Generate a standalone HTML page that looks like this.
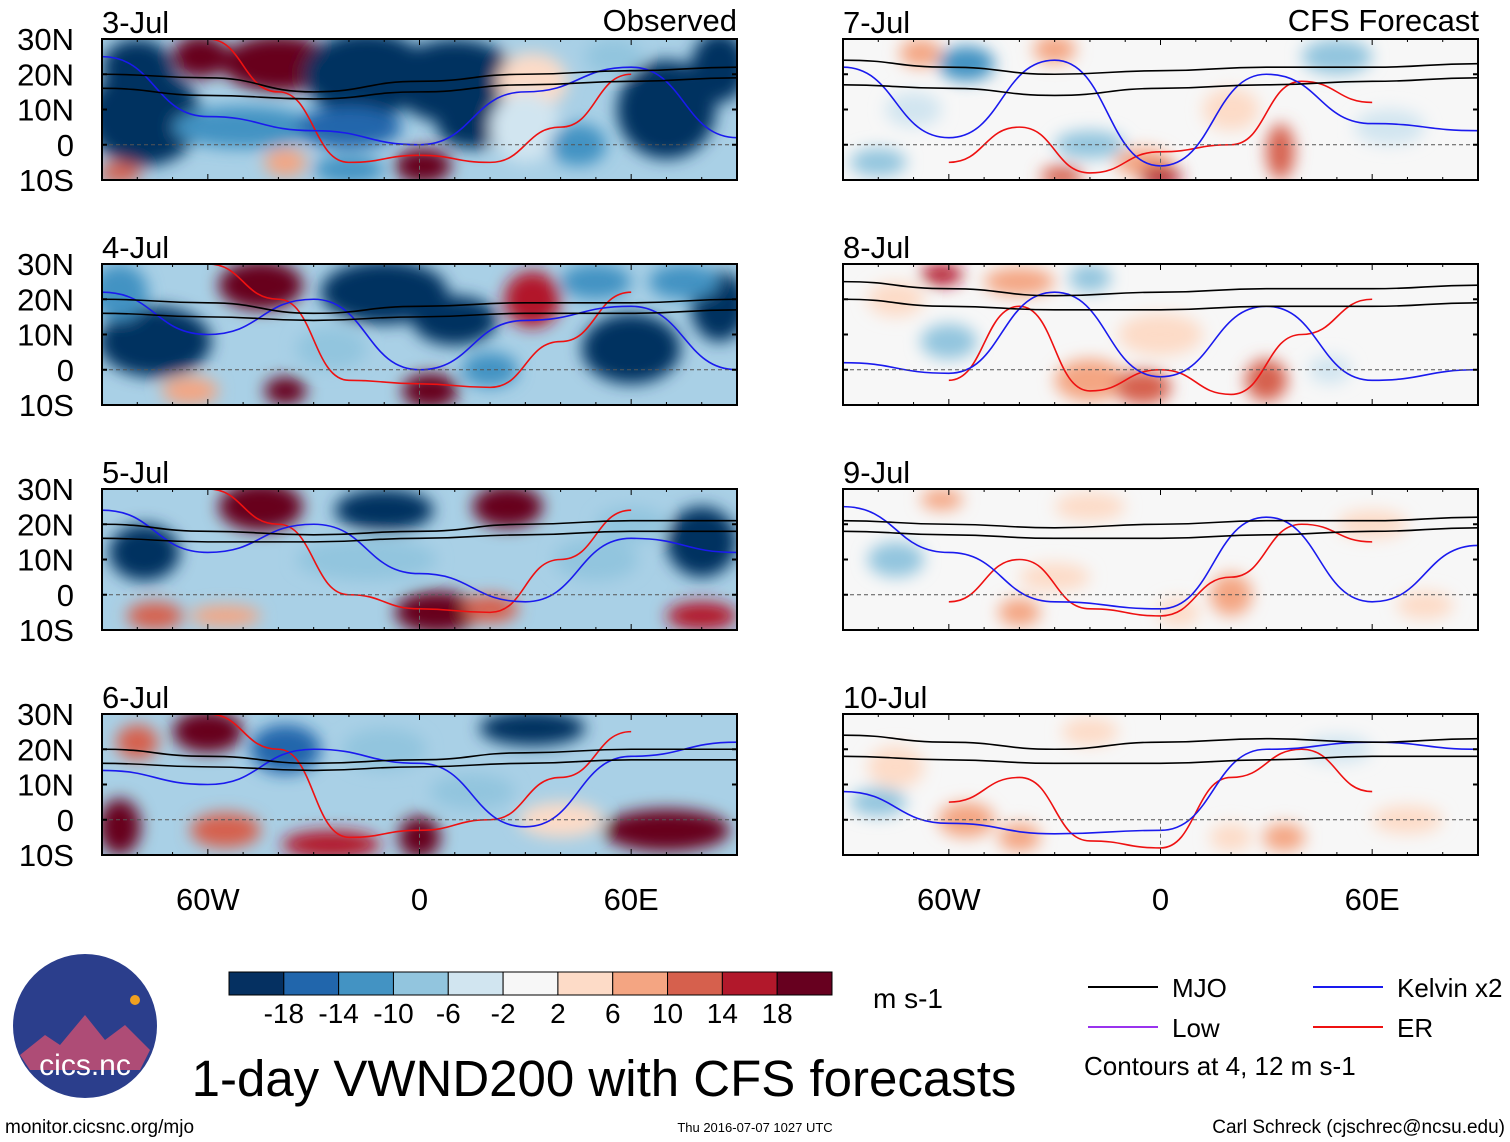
<!DOCTYPE html>
<html><head><meta charset="utf-8">
<style>
body{margin:0;background:#fff;font-family:"Liberation Sans",sans-serif;}
#root{position:relative;width:1510px;height:1142px;overflow:hidden;background:#fff;}
</style></head>
<body>
<div id="root">
<svg id="svg" width="1510" height="1142" xmlns="http://www.w3.org/2000/svg" font-family="Liberation Sans, sans-serif">
<defs>
<filter id="blur" x="-50%" y="-50%" width="200%" height="200%"><feGaussianBlur stdDeviation="8"/></filter>
</defs>
</svg>
</div>
<script>
// ---- data ----
const panelTitles=["3-Jul","4-Jul","5-Jul","6-Jul","7-Jul","8-Jul","9-Jul","10-Jul"];
const latTicks=[30,20,10,0,-10];
const latLabels=["30N","20N","10N","0","10S"];
const lonTicks=[-60,0,60];
const lonLabels=["60W","0","60E"];
const cbarLevels=[-18,-14,-10,-6,-2,2,6,10,14,18];
const cbarColors=["#053061","#2166ac","#4393c3","#92c5de","#d1e5f0","#f7f7f7","#fddbc7","#f4a582","#d6604d","#b2182b","#67001f"];
// anomaly blobs per panel: [lon, lat, value, lonRadius, latRadius]
const blobs0=[[-78,8,-22,16,14],[-80,22,-20,10,8],[-62,25,20,8,6],[-40,23,24,16,8],[-15,20,-22,18,12],[10,18,-22,18,12],[15,5,-20,10,6],[-50,5,-12,20,6],[-20,5,-14,15,6],[1,-6,22,8,5],[-38,-5,10,6,4],[32,18,6,10,8],[30,5,-2,10,10],[70,10,-22,14,14],[85,22,-20,8,10],[-85,-8,12,6,3],[55,25,-6,8,5],[-20,-7,-10,10,4],[45,0,-10,8,6]];
const blobs1=[[-75,8,-22,16,10],[-85,22,-12,8,8],[-45,24,22,12,7],[-10,22,-22,18,9],[10,14,-20,12,7],[-25,6,-8,10,6],[32,20,18,8,8],[60,6,-20,14,10],[85,18,-18,8,10],[-38,-6,20,6,4],[3,-6,22,8,5],[50,25,-10,10,5],[-65,-6,8,8,4],[20,0,-10,8,5],[75,25,-12,10,5]];
const blobs2=[[-45,25,24,12,7],[-78,12,-18,10,8],[-10,24,-18,14,6],[25,25,22,10,6],[80,15,-20,10,10],[5,-5,20,12,6],[80,-6,16,10,4],[-75,-6,14,8,4],[20,-4,12,8,4],[-15,10,-8,20,6],[50,10,-6,12,6],[-55,-6,10,10,3],[60,20,-8,10,5]];
const blobs3=[[-60,25,20,10,6],[-80,22,14,6,5],[-38,20,-16,10,7],[-10,20,-8,12,6],[32,26,-22,15,5],[-85,-2,20,6,8],[-25,-7,18,14,4],[0,-5,20,6,6],[70,-3,20,18,6],[40,0,6,12,5],[-55,-3,12,10,5],[15,8,-6,12,5]];
const blobs4=[[-68,26,8,6,4],[-55,23,-10,8,5],[-30,27,10,6,4],[-20,0,-6,10,4],[-5,-5,10,8,4],[0,-9,16,6,3],[-28,-9,14,6,3],[34,-2,14,4,8],[20,10,6,8,6],[50,25,-6,10,5],[-80,-5,-6,8,4],[65,5,-4,10,5],[-70,10,-4,8,5]];
const blobs5=[[-62,27,16,6,3],[-40,25,8,10,4],[-20,26,-6,6,4],[-60,8,-6,8,5],[-20,-3,10,10,6],[-5,-5,12,8,5],[30,-3,12,6,6],[48,0,-4,6,4],[0,10,4,12,6],[-75,20,6,8,5]];
const blobs6=[[-62,27,8,6,3],[-75,10,-6,8,5],[-30,5,6,10,4],[-40,-5,8,6,4],[20,0,8,6,6],[5,-5,6,6,4],[-20,25,6,10,4],[60,20,4,10,4],[75,-3,6,8,4]];
const blobs7=[[-75,15,6,8,6],[-55,0,8,8,5],[-40,-5,10,6,4],[-80,5,-6,8,4],[20,-5,6,6,4],[35,-5,8,6,4],[-20,25,6,8,4],[50,20,-4,10,4],[70,0,4,10,4]];
const allBlobs=[blobs0,blobs1,blobs2,blobs3,blobs4,blobs5,blobs6,blobs7];
const contourLons=[-90,-60,-30,0,30,60,90];
const mjoUpper=[[20,19,15,18,20,21,22],[20,19,16,18,19,19,20],[20,18,17,18,20,21,21],[20,18,16,17,19,20,20],[24,22,20,21,22,22,23],[25,23,21,22,23,23,24],[21,20,19,20,21,21,22],[24,22,20,22,23,22,23]];
const mjoLower=[[16,14,13,15,17,18,19],[16,15,14,15,16,16,17],[16,15,15,16,17,18,18],[16,15,14,15,16,17,17],[17,16,14,16,17,18,19],[20,18,17,17,18,18,19],[18,17,16,16,17,18,19],[18,17,16,16,17,18,18]];
const erLons=[-60,-40,-20,0,20,40,60];
const erLat=[[30,15,-5,-3,-5,5,20],[30,20,-3,-4,-5,8,22],[30,20,0,-4,-5,10,24],[30,20,-5,-3,0,12,25],[-5,5,-8,-2,0,18,12],[-3,18,-6,0,-7,10,20],[-2,10,-4,-6,5,20,15],[5,12,-6,-8,12,20,8]];
const kelLat=[[25,8,4,0,15,22,2],[22,10,20,0,14,18,0],[24,12,20,6,-2,16,12],[14,10,20,16,-2,18,22],[22,2,24,-6,20,6,4],[2,-1,22,-2,18,-3,0],[25,12,-2,-4,22,-2,14],[8,-1,-4,-3,20,22,20]];

// ---- helpers ----
const svg=document.getElementById('svg');
const NS="http://www.w3.org/2000/svg";
function mk(tag,attrs,parent){const e=document.createElementNS(NS,tag);for(const k in attrs)e.setAttribute(k,attrs[k]);(parent||svg).appendChild(e);return e;}
const panelX=[102,843], panelY=[39,264,489,714], PW=635, PH=141;
function colorOf(v){let i=0;while(i<cbarLevels.length&&v>cbarLevels[i])i++;return cbarColors[i];}
function xs(p,lon){return (lon+90)/180*PW;}
function ys(lat){return (30-lat)/40*PH;}

for(let p=0;p<8;p++){
  const col=p<4?0:1,row=p%4;
  const ox=panelX[col],oy=panelY[row];
  const g=mk('g',{transform:`translate(${ox},${oy})`});
  
  
  const cpp=mk('clipPath',{id:'c'+p},g);
  mk('rect',{width:PW,height:PH},cpp);
  mk('rect',{width:PW,height:PH,fill:p<4?'#a9d0e6':'#f7f7f7'},g);
  const inner=mk('g',{'clip-path':`url(#c${p})`},g);
  const bg=mk('g',{filter:'url(#blur)'},inner);
  allBlobs[p].forEach((b,i)=>{
    const e=mk('ellipse',{cx:xs(p,b[0]),cy:ys(b[1]),rx:b[3]*PW/180,ry:b[4]*PH/40,fill:colorOf(b[2])},bg);
    
    
  });
  function line(lons,lats,stroke,name){
    let d='';lons.forEach((l,i)=>{const x=xs(p,l),y=ys(lats[i]);if(i==0)d+=`M${x},${y}`;else{const px=xs(p,lons[i-1]),py=ys(lats[i-1]);d+=` C${px+(x-px)/2},${py} ${px+(x-px)/2},${y} ${x},${y}`;}});
    const e=mk('path',{d,fill:'none',stroke,'stroke-width':1.6},inner);
    
    
  }
  line(erLons,erLat[p],'#ee1111','er-contour');
  line(contourLons,kelLat[p],'#1a1aee','kelvin-contour');
  line(contourLons,mjoUpper[p],'#000','mjo-contour');
  line(contourLons,mjoLower[p],'#000','mjo-contour');
  mk('line',{x1:0,x2:PW,y1:ys(0),y2:ys(0),stroke:'#555','stroke-dasharray':'4,3','stroke-width':1},inner);
  mk('line',{x1:xs(p,0),x2:xs(p,0),y1:ys(0),y2:PH,stroke:'#666','stroke-dasharray':'4,3','stroke-width':1},inner);
  mk('rect',{width:PW,height:PH,fill:'none',stroke:'#000','stroke-width':2},g);
  for(let l=-90;l<=90;l+=10){const x=xs(p,l);const L=l%60==0?6:3;mk('line',{x1:x,x2:x,y1:0,y2:L,stroke:'#000'},g);mk('line',{x1:x,x2:x,y1:PH,y2:PH-L,stroke:'#000'},g);}
  latTicks.forEach(t=>{const y=ys(t);mk('line',{x1:0,x2:5,y1:y,y2:y,stroke:'#000','stroke-width':2},g);mk('line',{x1:PW,x2:PW-5,y1:y,y2:y,stroke:'#000','stroke-width':2},g);});
  const t=mk('text',{x:0,y:-6,'font-size':31},g);t.textContent=panelTitles[p];
  
  if(col==0) latLabels.forEach((s,i)=>{const e=mk('text',{x:-28,y:ys(latTicks[i])+11,'font-size':31,'text-anchor':'end'},g);e.textContent=s;});
  if(row==3) lonLabels.forEach((s,i)=>{const e=mk('text',{x:xs(p,lonTicks[i]),y:PH+55,'font-size':31,'text-anchor':'middle'},g);e.textContent=s;});
}
function txt(x,y,s,size,anchor,name,extra){const e=mk('text',Object.assign({x,y,'font-size':size,'text-anchor':anchor||'start'},extra||{}));e.textContent=s;return e;}
txt(737,31,"Observed",31,'end','observed-label');
txt(1479,31,"CFS Forecast",31,'end','forecast-label');
const cb=mk('g',{});
const cbw=603/cbarColors.length;
cbarColors.forEach((c,i)=>{const r=mk('rect',{x:229+i*cbw,y:972,width:cbw,height:23,fill:c,stroke:'#000','stroke-width':1},cb);});
cbarLevels.forEach((v,i)=>txt(229+(i+1)*cbw,1023,String(v),28,'middle','colorbar-tick'));
txt(873,1008,"m s-1",28,'start','units-label');
txt(604,1096,"1-day VWND200 with CFS forecasts",51,'middle','main-title');
const leg=[[1088,987,'#000','MJO'],[1088,1027,'#9933ee','Low'],[1313,987,'#1a1aee','Kelvin x2'],[1313,1027,'#ee1111','ER']];
leg.forEach(l=>{const e=mk('line',{x1:l[0],x2:l[0]+70,y1:l[1],y2:l[1],stroke:l[2],'stroke-width':2});txt(l[0]+84,l[1]+10,l[3],26,'start','legend-entry');});
txt(1084,1075,"Contours at 4, 12 m s-1",26,'start','contour-note');
txt(5,1133,"monitor.cicsnc.org/mjo",19,'start','url-label');
txt(755,1132,"Thu 2016-07-07 1027 UTC",13,'middle','timestamp');
txt(1505,1133,"Carl Schreck (cjschrec@ncsu.edu)",19,'end','author-label');
const lg=mk('g',{});
mk('circle',{cx:85,cy:1026,r:72,fill:'#2b3e8c'},lg);
mk('path',{d:'M20,1055 L45,1035 L60,1045 L85,1015 L105,1040 L125,1025 L150,1050 L140,1070 L30,1070 Z',fill:'#d05070',opacity:0.8},lg);
mk('circle',{cx:135,cy:1000,r:5,fill:'#f0a020'},lg);
const lt=mk('text',{x:85,y:1075,'font-size':30,'text-anchor':'middle',fill:'#fff'},lg);lt.textContent='cics.nc';
</script>
</body></html>
